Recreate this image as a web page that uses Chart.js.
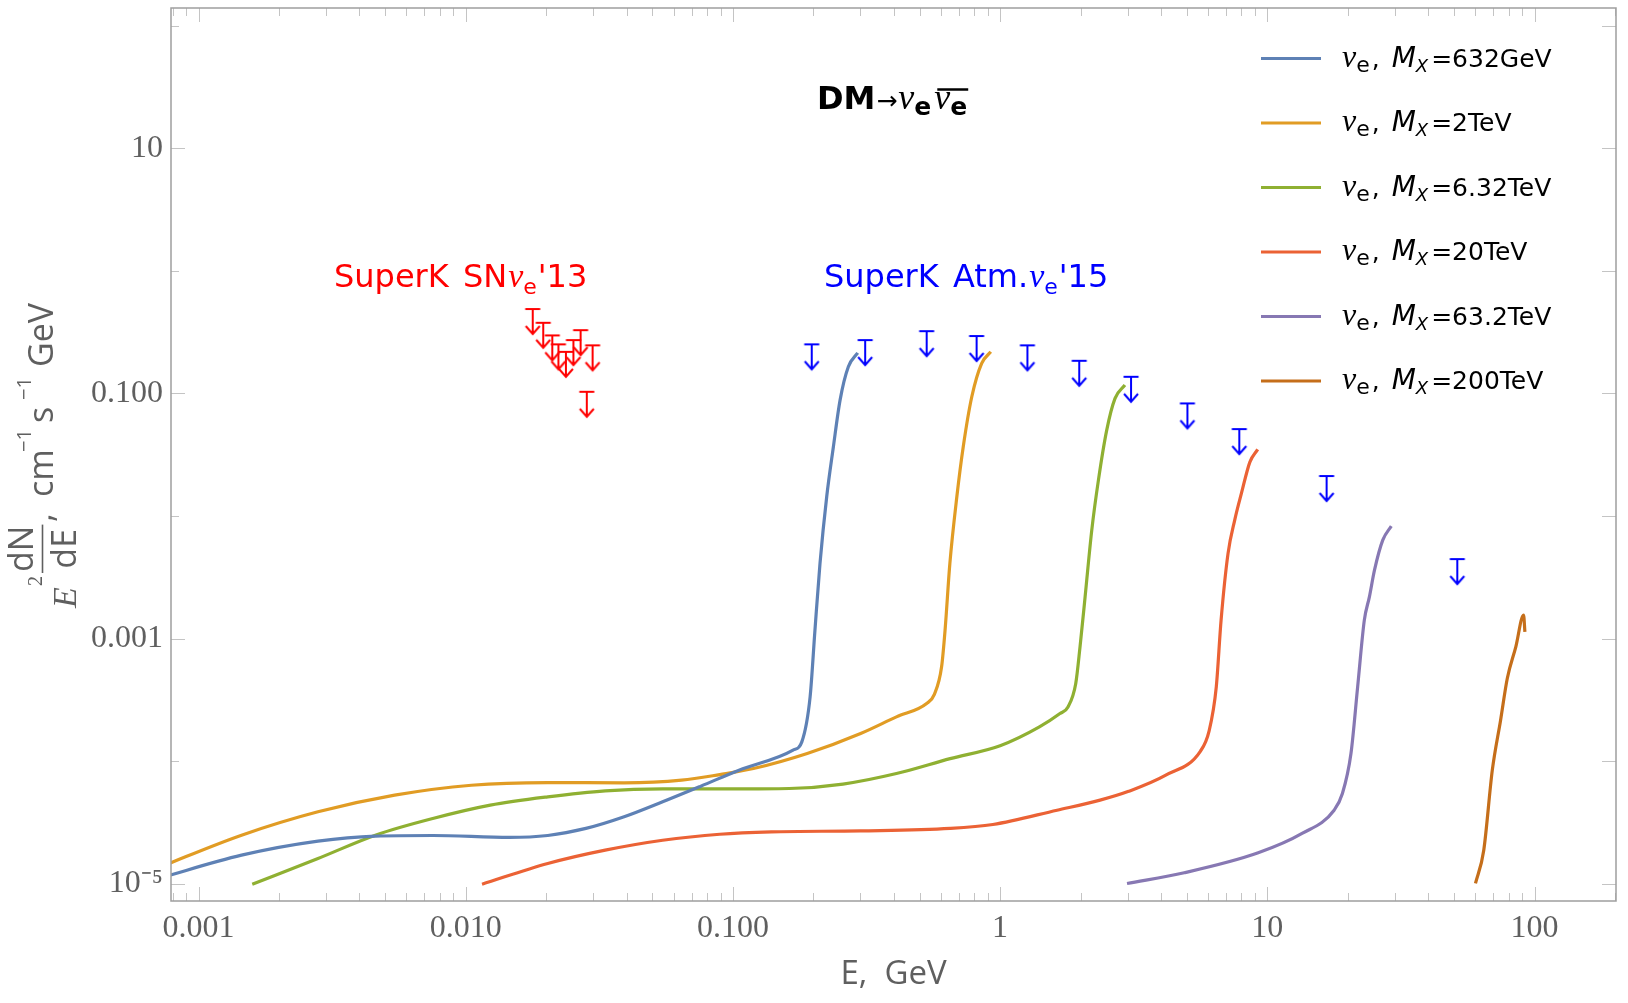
<!DOCTYPE html>
<html>
<head>
<meta charset="utf-8">
<script src="https://cdn.jsdelivr.net/npm/chart.js@4.4.1/dist/chart.umd.min.js"></script>
<style>
html, body { margin: 0; padding: 0; background: #fff; }
#wrap { width: 1628px; height: 1003px; }
</style>
</head>
<body>
<div id="wrap"><canvas id="chart" width="1628" height="1003"></canvas></div>
<script>
// Curve colours and legend masses
const chartColors = ['#5e81b5', '#e19c24', '#8fb032', '#eb6235', '#8778b3', '#c56e1a'];
const massLabels  = ['632GeV', '2TeV', '6.32TeV', '20TeV', '63.2TeV', '200TeV'];

// E (GeV) and E^2 dN/dE
const energy632 = [7.08e-4, 1.449e-3, 2.80e-3, 4.59e-3, 7.53e-3, 0.01459, 0.02028, 0.02818, 0.03917, 0.05458, 0.07586, 0.1054, 0.1679, 0.1811, 0.1945, 0.2028, 0.2118, 0.2244, 0.2377, 0.2518, 0.2704, 0.2931];
const flux632   = [1.10e-5, 1.706e-5, 2.22e-5, 2.44e-5, 2.47e-5, 2.38e-5, 2.47e-5, 2.82e-5, 3.51e-5, 4.65e-5, 6.24e-5, 8.43e-5, 1.227e-4, 1.435e-4, 3.34e-4, 1.172e-3, 4.10e-3, 0.01436, 0.03673, 0.0883, 0.1652, 0.2148];

const energy2T = [7.08e-4, 1.449e-3, 2.80e-3, 5.42e-3, 0.0105, 0.02028, 0.03917, 0.06427, 0.08933, 0.1194, 0.1897, 0.3006, 0.4093, 0.5309, 0.5675, 0.6039, 0.6223, 0.6486, 0.6887, 0.7278, 0.7834, 0.8531, 0.9226];
const flux2T   = [1.349e-5, 2.483e-5, 3.855e-5, 5.27e-5, 6.35e-5, 6.68e-5, 6.64e-5, 6.98e-5, 7.76e-5, 8.69e-5, 1.153e-4, 1.679e-4, 2.296e-4, 2.951e-4, 3.508e-4, 5.875e-4, 1.172e-3, 4.10e-3, 0.01436, 0.03673, 0.0940, 0.1762, 0.2188];

const energy6T = [1.589e-3, 2.80e-3, 4.59e-3, 7.53e-3, 0.01236, 0.02028, 0.03327, 0.05458, 0.1, 0.1626, 0.2582, 0.4093, 0.6501, 1.0, 1.403, 1.675, 1.795, 1.919, 1.991, 2.080, 2.203, 2.333, 2.506, 2.692, 2.931];
const flux6T   = [9.89e-6, 1.603e-5, 2.483e-5, 3.396e-5, 4.365e-5, 5.105e-5, 5.715e-5, 5.93e-5, 5.92e-5, 5.97e-5, 6.49e-5, 7.91e-5, 1.047e-4, 1.334e-4, 1.901e-4, 2.443e-4, 2.767e-4, 4.30e-4, 8.55e-4, 2.188e-3, 7.67e-3, 0.01963, 0.05023, 0.0912, 0.1172];

const energy20T = [0.01151, 0.02028, 0.03327, 0.05458, 0.08933, 0.1393, 0.3006, 0.6501, 0.9397, 1.633, 2.366, 3.027, 4.169, 5.623, 6.053, 6.442, 6.714, 7.129, 7.551, 7.998, 8.610, 9.204];
const flux20T   = [9.89e-6, 1.459e-5, 1.875e-5, 2.259e-5, 2.529e-5, 2.642e-5, 2.692e-5, 2.818e-5, 3.034e-5, 3.972e-5, 4.797e-5, 5.662e-5, 7.674e-5, 1.208e-4, 1.758e-4, 4.036e-4, 1.413e-3, 4.955e-3, 9.268e-3, 0.01528, 0.02767, 0.03499];

const energy63T = [2.985, 4.887, 9.247, 13.49, 17.78, 19.10, 20.56, 21.78, 23.07, 24.10, 25.18, 27.04, 29.11];
const flux63T   = [1.002e-5, 1.225e-5, 1.782e-5, 2.564e-5, 3.972e-5, 5.433e-5, 1.153e-4, 4.036e-4, 1.413e-3, 2.188e-3, 3.614e-3, 6.353e-3, 8.279e-3];

const energy200T = [60.12, 64.57, 69.50, 74.64, 79.07, 85.11, 91.0, 92.04];
const flux200T   = [1.002e-5, 1.875e-5, 8.43e-5, 2.158e-4, 4.721e-4, 8.55e-4, 1.552e-3, 1.135e-3];

// Super-K upper limits
const snEnergy = [0.01782, 0.01950, 0.02109, 0.02223, 0.02371, 0.02529, 0.02692, 0.02985, 0.02838];
const snLimit  = [0.4887, 0.3776, 0.2979, 0.2518, 0.2188, 0.2729, 0.3289, 0.2472, 0.1033];
const atmEnergy = [0.1972, 0.3126, 0.5309, 0.8166, 1.265, 1.977, 3.090, 5.023, 7.852, 16.67, 51.40];
const atmLimit  = [0.2518, 0.2729, 0.3228, 0.2944, 0.2472, 0.1849, 0.1368, 0.0830, 0.0512, 0.0212, 0.00445];

// Axes
const xRange = [7.89e-4, 201.8];
const yRange = [7.21e-6, 140];
const xDecades = [1e-4, 1e-3, 1e-2, 0.1, 1, 10, 100];
const xTickLabels = ['', '0.001', '0.010', '0.100', '1', '10', '100'];
const yDecades = [1e-5, 1e-4, 1e-3, 1e-2, 0.1, 1, 10, 100];
const yTickLabels = ['10\u207B\u2075', '', '0.001', '', '0.100', '', '10', ''];

const SANS = '"DejaVu Sans"';
const SERIF = '"Liberation Serif"';
const AXIS_SANS = '"Open Sans"';
const GREY = '#5f5f5f';

function pairs(xs, ys) {
	return xs.map((x, i) => ({ x: x, y: ys[i] }));
}

// Upper-limit glyph: bar on the value, stem and open head below it
function limitSprite(color) {
	let c = document.createElement('canvas');
	c.width = 18;
	c.height = 56;
	let g = c.getContext('2d');
	g.strokeStyle = color;
	g.lineWidth = 2;
	g.beginPath();
	g.moveTo(1.5, 28); g.lineTo(16.5, 28);
	g.moveTo(9, 28); g.lineTo(9, 53);
	g.moveTo(2, 45); g.lineTo(9, 53); g.lineTo(16, 45);
	g.stroke();
	return c;
}

function drawRuns(ctx, x, y, runs) {
	runs.forEach(r => {
		ctx.font = r.font;
		x += r.gap || 0;
		r.x0 = x;
		ctx.fillText(r.text, x, y + (r.dy || 0));
		x += ctx.measureText(r.text).width;
		r.x1 = x;
	});
	return x;
}

const frameTicks = {
	id: 'frameTicks',
	afterDatasetsDraw(chart) {
		let { ctx, chartArea: a, scales: { x, y } } = chart;
		ctx.save();
		ctx.strokeStyle = '#c4c4c4';
		ctx.lineWidth = 1;
		ctx.beginPath();
		x.ticks.forEach(t => {
			let px = Math.round(x.getPixelForValue(t.value)) + 0.5;
			let len = t.major ? 14 : 8;
			ctx.moveTo(px, a.bottom); ctx.lineTo(px, a.bottom - len);
			ctx.moveTo(px, a.top); ctx.lineTo(px, a.top + len);
		});
		y.ticks.forEach((t, i) => {
			let py = Math.round(y.getPixelForValue(t.value)) + 0.5;
			let len = yTickLabels[i] ? 14 : 8;
			ctx.moveTo(a.left, py); ctx.lineTo(a.left + len, py);
			ctx.moveTo(a.right, py); ctx.lineTo(a.right - 14, py);
		});
		ctx.stroke();
		ctx.strokeStyle = '#9e9e9e';
		ctx.lineWidth = 1.5;
		ctx.strokeRect(a.left, a.top, a.right - a.left, a.bottom - a.top);
		ctx.restore();
	}
};

const annotations = {
	id: 'annotations',
	afterDraw(chart) {
		let ctx = chart.ctx;
		ctx.save();
		ctx.textAlign = 'left';
		ctx.textBaseline = 'alphabetic';

		// Process label
		ctx.fillStyle = '#000';
		let title = [
			{ text: 'DM', font: `bold 32px ${SANS}` },
			{ text: '\u2192', font: `25px ${SANS}`, gap: 1 },
			{ text: '\u03BD', font: `italic 36px ${SERIF}`, gap: 1 },
			{ text: 'e', font: `bold 25px ${SANS}`, dy: 6 },
			{ text: '\u03BD', font: `italic 36px ${SERIF}`, gap: 3 },
			{ text: 'e', font: `bold 25px ${SANS}`, dy: 6 },
		];
		drawRuns(ctx, 817, 109, title);
		ctx.strokeStyle = '#000';
		ctx.lineWidth = 2.5;
		ctx.beginPath();
		ctx.moveTo(title[4].x0 + 3, 89.5);
		ctx.lineTo(title[5].x1 + 1, 89.5);
		ctx.stroke();

		// Experiment labels
		ctx.fillStyle = '#ff0000';
		drawRuns(ctx, 334, 287, [
			{ text: 'SuperK', font: `32px ${SANS}` },
			{ text: ' SN', font: `32px ${SANS}`, gap: 4 },
			{ text: '\u03BD', font: `italic 34px ${SERIF}`, gap: 1 },
			{ text: 'e', font: `22px ${SANS}`, dy: 7 },
			{ text: "'13", font: `32px ${SANS}`, gap: 1 },
		]);
		ctx.fillStyle = '#0000ff';
		drawRuns(ctx, 824, 287, [
			{ text: 'SuperK', font: `32px ${SANS}` },
			{ text: ' Atm.', font: `32px ${SANS}`, gap: 4 },
			{ text: '\u03BD', font: `italic 34px ${SERIF}`, gap: 1 },
			{ text: 'e', font: `22px ${SANS}`, dy: 7 },
			{ text: "'15", font: `32px ${SANS}`, gap: 1 },
		]);

		// Legend
		massLabels.forEach((m, i) => {
			let yl = 58.5 + i * 64.5;
			ctx.strokeStyle = chartColors[i];
			ctx.lineWidth = 3;
			ctx.beginPath();
			ctx.moveTo(1261, yl); ctx.lineTo(1321, yl);
			ctx.stroke();
			ctx.fillStyle = '#000';
			drawRuns(ctx, 1342, yl + 8.4, [
				{ text: '\u03BD', font: `italic 32px ${SERIF}` },
				{ text: 'e', font: `22px ${SANS}`, dy: 5 },
				{ text: ',', font: `25px ${SANS}`, gap: 2 },
				{ text: 'M', font: `italic 28px ${SANS}`, gap: 12 },
				{ text: 'X', font: `italic 18px ${SANS}`, dy: 5 },
				{ text: '=' + m, font: `25px ${SANS}`, gap: 3 },
			]);
		});

		// Y axis title, rotated: E^2 dN/dE, cm^-1 s^-1 GeV
		ctx.fillStyle = GREY;
		ctx.strokeStyle = GREY;
		ctx.translate(53, 608);
		ctx.rotate(-Math.PI / 2);
		ctx.font = `italic 34px ${SERIF}`;
		ctx.fillText('E', 0, 23);
		ctx.font = `20px ${SERIF}`;
		ctx.fillText('2', 22, -11);
		ctx.font = `34px ${AXIS_SANS}`;
		let wN = ctx.measureText('dN').width;
		let wD = ctx.measureText('dE').width;
		let fw = Math.max(wN, wD) + 2;
		ctx.fillText('dN', 35 + (fw - wN) / 2, -20);
		ctx.fillText('dE', 35 + (fw - wD) / 2, 23);
		ctx.lineWidth = 1.6;
		ctx.beginPath();
		ctx.moveTo(35, -10.5); ctx.lineTo(35 + fw, -10.5);
		ctx.stroke();
		ctx.fillText(',', 86, 0);
		ctx.fillText('cm', 111, 0);
		ctx.font = `20px ${AXIS_SANS}`;
		ctx.fillText('\u22121', 156, -22);
		ctx.font = `34px ${AXIS_SANS}`;
		ctx.fillText('s', 185, 0);
		ctx.font = `20px ${AXIS_SANS}`;
		ctx.fillText('\u22121', 208, -22);
		ctx.font = `34px ${AXIS_SANS}`;
		ctx.fillText('GeV', 241, 0);
		ctx.restore();
	}
};

let curves = [
	[energy632, flux632], [energy2T, flux2T], [energy6T, flux6T],
	[energy20T, flux20T], [energy63T, flux63T], [energy200T, flux200T],
];

let datasets = curves.map((c, i) => ({
	label: massLabels[i],
	data: pairs(c[0], c[1]),
	showLine: true,
	borderColor: chartColors[i],
	backgroundColor: chartColors[i],
	borderWidth: 3.2,
	pointRadius: 0,
	cubicInterpolationMode: 'monotone',
}));

datasets.push({
	label: 'SuperK SN',
	data: pairs(snEnergy, snLimit),
	showLine: false,
	pointStyle: limitSprite('#ff0000'),
	pointRadius: 5,
});
datasets.push({
	label: 'SuperK Atm',
	data: pairs(atmEnergy, atmLimit),
	showLine: false,
	pointStyle: limitSprite('#0000ff'),
	pointRadius: 5,
});

new Chart(document.getElementById('chart'), {
	type: 'scatter',
	data: { datasets: datasets },
	options: {
		responsive: false,
		animation: false,
		devicePixelRatio: 1,
		events: [],
		layout: { padding: { top: 8, right: 12, left: 0, bottom: 0 } },
		plugins: {
			legend: { display: false },
			tooltip: { enabled: false },
		},
		scales: {
			x: {
				type: 'logarithmic',
				min: xRange[0],
				max: xRange[1],
				afterFit(s) {
					s.height = 102;
					s.paddingLeft = 0;
					s.paddingRight = 0;
				},
				afterBuildTicks(s) {
					let ticks = [];
					xDecades.forEach(d => {
						for (let m = 1; m < 10; m++) {
							let v = d * m;
							if (v >= xRange[0] && v <= xRange[1]) ticks.push({ value: v, major: m === 1 });
						}
					});
					s.ticks = ticks;
				},
				ticks: {
					autoSkip: false,
					maxRotation: 0,
					minRotation: 0,
					padding: 8,
					color: GREY,
					font: { family: 'Liberation Serif', size: 32 },
					callback(v, i, ticks) {
						if (!ticks[i].major) return '';
						return xTickLabels[xDecades.indexOf(v)] || '';
					},
				},
				grid: { display: false, drawTicks: false },
				border: { display: false },
				title: {
					display: true,
					text: 'E,  GeV',
					color: GREY,
					font: { family: 'Open Sans', size: 33 },
					padding: { top: 0, bottom: 9 },
				},
			},
			y: {
				type: 'logarithmic',
				min: yRange[0],
				max: yRange[1],
				afterFit(s) {
					s.width = 171;
					s.paddingTop = 0;
					s.paddingBottom = 0;
				},
				afterBuildTicks(s) {
					s.ticks = yDecades.map(v => ({ value: v, major: true }));
				},
				ticks: {
					autoSkip: false,
					padding: 8,
					color: GREY,
					font: { family: 'Liberation Serif', size: 32 },
					callback(v, i) { return yTickLabels[i]; },
				},
				grid: { display: false, drawTicks: false },
				border: { display: false },
			},
		},
	},
	plugins: [frameTicks, annotations],
});
</script>
</body>
</html>
